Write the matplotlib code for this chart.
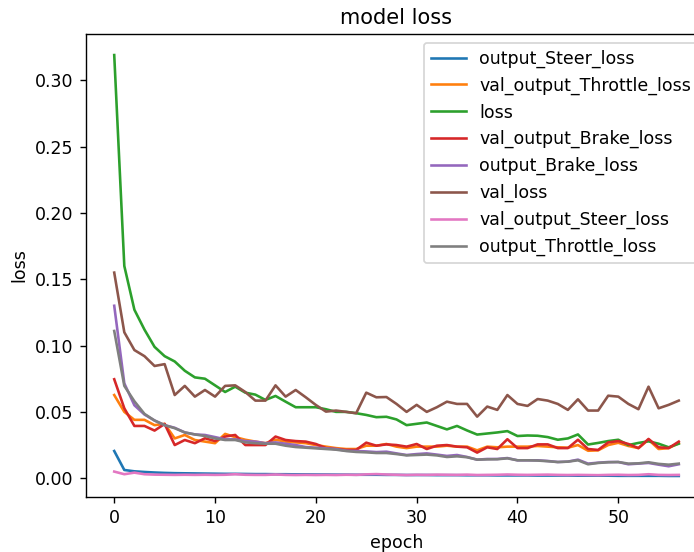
import numpy as np
import matplotlib
matplotlib.use("Agg")
import matplotlib.pyplot as plt

output_Steer_loss = [0.0205, 0.0062, 0.0052, 0.0047, 0.0043, 0.0040, 0.0038, 0.0037, 0.0036, 0.0035,
                     0.0034, 0.0033, 0.0033, 0.0032, 0.0031, 0.0031, 0.0030, 0.0030, 0.0029, 0.0029,
                     0.0028, 0.0028, 0.0027, 0.0027, 0.0026, 0.0026, 0.0026, 0.0025, 0.0025, 0.0024,
                     0.0024, 0.0024, 0.0023, 0.0023, 0.0023, 0.0022, 0.0022, 0.0022, 0.0021, 0.0021,
                     0.0021, 0.0021, 0.0020, 0.0020, 0.0020, 0.0020, 0.0019, 0.0019, 0.0019, 0.0019,
                     0.0018, 0.0018, 0.0018, 0.0018, 0.0018, 0.0017, 0.0017]
val_output_Throttle_loss = [0.0627, 0.050, 0.044, 0.044, 0.040, 0.041, 0.030, 0.0326, 0.0288, 0.0276,
                            0.0264, 0.0334, 0.031, 0.029, 0.0276, 0.0264, 0.029, 0.0276, 0.027, 0.0264,
                            0.025, 0.0238, 0.0227, 0.022, 0.022, 0.0245, 0.0245, 0.0258, 0.0238, 0.0227,
                            0.0238, 0.0238, 0.0238, 0.0245, 0.0238, 0.0238, 0.021, 0.0238, 0.0233, 0.0238,
                            0.0238, 0.0238, 0.0243, 0.0238, 0.0233, 0.023, 0.025, 0.0207, 0.021, 0.025,
                            0.0267, 0.0243, 0.0227, 0.029, 0.022, 0.0227, 0.0264]
loss = [0.319, 0.160, 0.127, 0.112, 0.099, 0.092, 0.088, 0.081, 0.076, 0.075,
        0.070, 0.065, 0.069, 0.0645, 0.063, 0.059, 0.062, 0.0577, 0.0535, 0.0535,
        0.0535, 0.052, 0.050, 0.050, 0.049, 0.0477, 0.046, 0.0463, 0.0443, 0.040,
        0.041, 0.042, 0.0394, 0.0368, 0.0394, 0.036, 0.0329, 0.0337, 0.0345, 0.0355,
        0.0318, 0.0322, 0.032, 0.031, 0.029, 0.030, 0.033, 0.0254, 0.0266, 0.028,
        0.029, 0.025, 0.0266, 0.0278, 0.026, 0.0233, 0.026]
val_output_Brake_loss = [0.0746, 0.0527, 0.0394, 0.0394, 0.0359, 0.0409, 0.025, 0.0288, 0.0264, 0.0301,
                         0.028, 0.0314, 0.0326, 0.025, 0.025, 0.025, 0.0314, 0.0288, 0.028, 0.0276,
                         0.0258, 0.0227, 0.022, 0.0213, 0.0213, 0.0268, 0.0245, 0.0255, 0.025, 0.0238,
                         0.0258, 0.022, 0.0245, 0.025, 0.0238, 0.0233, 0.0193, 0.0233, 0.022, 0.0294,
                         0.0227, 0.0227, 0.0255, 0.0255, 0.0227, 0.0227, 0.029, 0.022, 0.0213, 0.027,
                         0.028, 0.0258, 0.0227, 0.0296, 0.0233, 0.0227, 0.0276]
output_Brake_loss = [0.130, 0.0715, 0.055, 0.048, 0.0435, 0.040, 0.038, 0.0345, 0.033, 0.0326,
                     0.031, 0.0293, 0.0293, 0.028, 0.0276, 0.0264, 0.027, 0.026, 0.025, 0.0235,
                     0.023, 0.0225, 0.022, 0.0207, 0.0205, 0.0202, 0.0197, 0.0200, 0.0187, 0.0175,
                     0.0182, 0.0187, 0.0178, 0.0168, 0.0175, 0.016, 0.014, 0.0145, 0.0145, 0.0152,
                     0.0135, 0.0135, 0.0135, 0.013, 0.0122, 0.0125, 0.014, 0.011, 0.0117, 0.0122,
                     0.0122, 0.0105, 0.011, 0.0115, 0.0102, 0.009, 0.0105]
val_loss = [0.155, 0.110, 0.0966, 0.092, 0.0846, 0.086, 0.0627, 0.0696, 0.0615, 0.0665,
            0.0615, 0.0696, 0.070, 0.065, 0.0585, 0.0585, 0.070, 0.0615, 0.0665, 0.061,
            0.0552, 0.0502, 0.051, 0.050, 0.049, 0.0645, 0.061, 0.0612, 0.056, 0.050,
            0.0553, 0.050, 0.0535, 0.0577, 0.056, 0.056, 0.0464, 0.054, 0.0515, 0.0627,
            0.056, 0.0545, 0.0597, 0.0585, 0.056, 0.0515, 0.0595, 0.051, 0.051, 0.0622,
            0.0615, 0.056, 0.052, 0.069, 0.0527, 0.0553, 0.0585]
val_output_Steer_loss = [0.0050, 0.0030, 0.0042, 0.0030, 0.0027, 0.0026, 0.0025, 0.0026, 0.0025, 0.0026,
                         0.0025, 0.0026, 0.0030, 0.0026, 0.0025, 0.0025, 0.0028, 0.0025, 0.0024, 0.0025,
                         0.0024, 0.0025, 0.0024, 0.0026, 0.0025, 0.0029, 0.0031, 0.0028, 0.0026, 0.0024,
                         0.0026, 0.0025, 0.0027, 0.0026, 0.0025, 0.0027, 0.0024, 0.0025, 0.0026, 0.0028,
                         0.0026, 0.0025, 0.0026, 0.0027, 0.0025, 0.0024, 0.0025, 0.0024, 0.0023, 0.0025,
                         0.0026, 0.0024, 0.0025, 0.0030, 0.0025, 0.0024, 0.0025]
output_Throttle_loss = [0.111, 0.0696, 0.058, 0.0485, 0.0435, 0.040, 0.0377, 0.0345, 0.033, 0.0318,
                        0.030, 0.0288, 0.0288, 0.027, 0.0264, 0.026, 0.026, 0.0245, 0.0235, 0.023,
                        0.0225, 0.022, 0.0215, 0.0205, 0.0198, 0.0195, 0.019, 0.019, 0.0182, 0.0172,
                        0.0175, 0.0178, 0.0172, 0.016, 0.0165, 0.0158, 0.014, 0.0142, 0.0143, 0.015,
                        0.0135, 0.0135, 0.0133, 0.0128, 0.0122, 0.0125, 0.0135, 0.0105, 0.0115, 0.012,
                        0.0122, 0.011, 0.0112, 0.012, 0.0108, 0.0102, 0.011]

series_names = ["output_Steer_loss", "val_output_Throttle_loss", "loss", "val_output_Brake_loss",
                "output_Brake_loss", "val_loss", "val_output_Steer_loss", "output_Throttle_loss"]
series_values = [output_Steer_loss, val_output_Throttle_loss, loss, val_output_Brake_loss,
                 output_Brake_loss, val_loss, val_output_Steer_loss, output_Throttle_loss]

DPI = 125
fig = plt.figure(figsize=(694 / DPI, 552 / DPI), dpi=DPI)
ax = fig.add_axes([86 / 694, 55 / 552, 621 / 694, 463 / 552])
for name, vals in zip(series_names, series_values):
    ax.plot(np.arange(len(vals)), vals, label=name)
ax.set_title("model loss")
ax.set_xlabel("epoch")
ax.set_ylabel("loss")
ax.legend(loc="upper right")
fig.savefig("out.png", dpi=DPI)
